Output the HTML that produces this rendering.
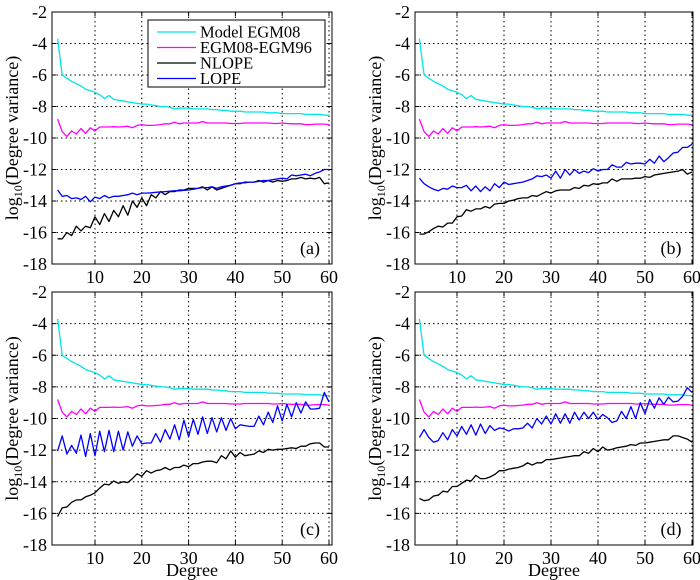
<!DOCTYPE html>
<html><head><meta charset="utf-8"><style>
html,body{margin:0;padding:0;background:#fff;}
svg{display:block;font-family:"Liberation Serif",serif;}
</style></head><body>
<svg id="fig" width="700" height="580" viewBox="0 0 700 580" xmlns="http://www.w3.org/2000/svg"></svg>
<script>
const degrees = [];
for (let d = 2; d <= 60; d++) degrees.push(d);
const yTicks = [-2,-4,-6,-8,-10,-12,-14,-16,-18];
const xTicks = [10,20,30,40,50,60];
const panelLabels = ['(a)','(b)','(c)','(d)'];
const seriesNames = ['Model EGM08','EGM08-EGM96','NLOPE','LOPE'];
const seriesColors = ['#00e5e5','#ff00ff','#000000','#0000ff'];

const egm08 = [-3.7,-6.0,-6.2,-6.4,-6.55,-6.7,-6.9,-7.0,-7.1,-7.25,-7.5,-7.3,-7.55,-7.6,-7.65,-7.7,-7.75,-7.8,-7.85,-7.85,-7.9,-7.95,-8.0,-8.0,-8.05,-8.15,-8.1,-8.1,-8.1,-8.15,-8.15,-8.15,-8.15,-8.2,-8.2,-8.25,-8.25,-8.3,-8.3,-8.3,-8.35,-8.35,-8.35,-8.35,-8.35,-8.4,-8.4,-8.4,-8.45,-8.45,-8.45,-8.45,-8.45,-8.5,-8.5,-8.5,-8.5,-8.55,-8.55];
const egmDiff = [-8.8,-9.6,-9.9,-9.55,-9.75,-9.4,-9.7,-9.35,-9.55,-9.3,-9.3,-9.3,-9.28,-9.3,-9.28,-9.25,-9.35,-9.2,-9.15,-9.2,-9.2,-9.18,-9.15,-9.1,-9.1,-9.0,-9.1,-9.05,-9.05,-9.05,-9.05,-8.95,-9.05,-9.05,-9.05,-9.05,-9.05,-9.08,-9.08,-9.08,-9.05,-9.05,-9.05,-9.05,-9.05,-9.05,-9.08,-9.08,-9.05,-9.08,-9.1,-9.1,-9.1,-9.15,-9.15,-9.12,-9.12,-9.12,-9.15];

const nlopeA = [-16.4,-16.4,-16.0,-16.2,-15.6,-15.9,-15.6,-15.7,-15.0,-15.5,-14.8,-15.3,-14.6,-15.0,-14.3,-14.9,-14.0,-14.4,-13.8,-14.3,-13.6,-13.8,-13.4,-13.6,-13.4,-13.4,-13.3,-13.3,-13.2,-13.2,-13.2,-13.1,-13.3,-13.1,-13.3,-13.2,-13.1,-13.0,-12.9,-12.9,-12.8,-12.8,-12.8,-12.7,-12.8,-12.7,-12.8,-12.7,-12.75,-12.7,-12.6,-12.6,-12.5,-12.6,-12.55,-12.6,-12.5,-12.9,-12.85];
const lopeA = [-13.3,-13.7,-13.65,-13.85,-13.8,-13.9,-13.7,-14.05,-13.75,-13.85,-13.65,-13.8,-13.7,-13.7,-13.65,-13.6,-13.5,-13.6,-13.5,-13.5,-13.48,-13.45,-13.42,-13.4,-13.38,-13.35,-13.35,-13.32,-13.3,-13.25,-13.2,-13.15,-13.15,-13.1,-13.2,-13.1,-13.05,-13.0,-12.9,-12.85,-12.85,-12.8,-12.8,-12.75,-12.7,-12.7,-12.65,-12.6,-12.55,-12.6,-12.35,-12.4,-12.35,-12.3,-12.4,-12.25,-12.15,-12.0,-12.0];
const nlopeB = [-16.1,-16.1,-15.95,-15.75,-15.6,-15.65,-15.4,-15.4,-15.0,-14.95,-14.55,-14.65,-14.5,-14.5,-14.35,-14.45,-14.2,-14.15,-14.15,-14.0,-13.95,-13.85,-13.8,-13.8,-13.65,-13.7,-13.55,-13.4,-13.5,-13.35,-13.3,-13.3,-13.3,-13.15,-13.2,-13.0,-13.05,-12.9,-12.95,-12.85,-12.85,-12.6,-12.75,-12.6,-12.6,-12.6,-12.55,-12.55,-12.45,-12.5,-12.35,-12.3,-12.25,-12.2,-12.15,-12.1,-12.0,-12.3,-12.15];
const lopeB = [-12.55,-12.9,-13.1,-13.25,-13.35,-13.2,-13.25,-13.05,-13.15,-13.15,-13.0,-13.35,-13.05,-13.4,-13.1,-13.35,-12.9,-13.15,-12.8,-12.95,-12.9,-12.85,-12.8,-12.7,-12.6,-12.4,-12.45,-12.35,-12.55,-12.1,-12.55,-12.0,-12.35,-12.0,-12.25,-12.1,-12.2,-11.95,-12.1,-12.0,-12.0,-11.7,-11.85,-11.85,-11.55,-11.65,-11.6,-11.6,-11.65,-11.35,-11.6,-11.15,-11.5,-11.25,-10.95,-10.9,-10.6,-10.6,-10.4];
const nlopeC = [-16.2,-15.65,-15.6,-15.3,-15.15,-15.15,-14.95,-14.85,-14.7,-14.4,-14.15,-14.2,-13.95,-14.1,-14.0,-14.05,-13.8,-13.5,-13.65,-13.3,-13.45,-13.3,-13.25,-13.1,-13.25,-13.1,-13.1,-12.95,-13.05,-12.85,-12.85,-12.75,-12.7,-12.7,-12.8,-12.35,-12.55,-12.05,-12.45,-12.15,-12.35,-12.3,-12.25,-12.05,-12.15,-11.95,-12.0,-11.95,-11.95,-11.9,-11.85,-11.9,-11.75,-11.75,-11.6,-11.55,-11.55,-11.8,-11.8];
const lopeC = [-12.05,-11.1,-12.25,-11.7,-12.2,-11.05,-12.4,-10.95,-12.35,-10.8,-12.1,-10.75,-12.1,-10.8,-12.0,-10.85,-11.75,-11.1,-11.6,-11.55,-11.55,-10.95,-11.5,-10.7,-11.3,-10.4,-11.35,-10.1,-11.15,-10.05,-11.0,-9.9,-10.95,-9.95,-10.85,-9.95,-10.75,-10.0,-10.65,-10.4,-10.45,-10.5,-10.5,-9.85,-10.4,-9.6,-10.25,-9.2,-10.15,-9.1,-9.9,-9.0,-9.65,-8.95,-9.4,-9.4,-9.35,-8.35,-8.95];
const nlopeD = [-15.05,-15.2,-15.15,-14.9,-14.85,-14.6,-14.65,-14.3,-14.3,-14.1,-13.9,-13.95,-13.6,-13.8,-13.8,-13.7,-13.55,-13.3,-13.3,-13.2,-13.15,-13.1,-13.0,-12.8,-12.95,-12.8,-12.8,-12.6,-12.6,-12.55,-12.5,-12.45,-12.4,-12.35,-12.35,-12.1,-12.2,-11.9,-12.1,-11.8,-12.0,-11.95,-11.85,-11.8,-11.75,-11.65,-11.7,-11.55,-11.55,-11.5,-11.45,-11.4,-11.35,-11.35,-11.1,-11.1,-11.2,-11.3,-11.5];
const lopeD = [-11.2,-10.7,-11.2,-11.5,-11.4,-10.9,-11.35,-10.7,-11.1,-10.5,-11.0,-10.4,-11.05,-10.35,-10.95,-10.45,-10.75,-10.6,-10.65,-10.8,-10.65,-10.65,-10.6,-10.3,-10.6,-10.0,-10.35,-9.85,-10.35,-9.7,-10.3,-9.7,-10.3,-9.6,-10.1,-9.6,-10.0,-9.6,-10.05,-9.75,-9.95,-10.25,-10.15,-9.55,-10.0,-9.25,-10.0,-9.0,-9.7,-8.8,-9.35,-8.7,-9.1,-8.65,-8.95,-8.9,-8.6,-8.05,-8.35];

const nlopeSets = [nlopeA, nlopeB, nlopeC, nlopeD];
const lopeSets = [lopeA, lopeB, lopeC, lopeD];

const NS = 'http://www.w3.org/2000/svg';
const svg = document.getElementById('fig');
function mk(tag, attrs, parent) {
  const e = document.createElementNS(NS, tag);
  for (const k in attrs) e.setAttribute(k, attrs[k]);
  (parent || svg).appendChild(e);
  return e;
}
const panels = [
  {l:52, r:332, t:12, b:264, x10:95, x60:329},
  {l:415, r:693, t:12, b:264, x10:457, x60:692},
  {l:52, r:332, t:292, b:545, x10:95, x60:329},
  {l:415, r:693, t:292, b:545, x10:457, x60:692}
];
panels.forEach((p, i) => {
  const g = mk('g', {});
  
  
  const sx = v => p.x10 + (v - 10) * (p.x60 - p.x10) / 50;
  const sy = v => p.t + (-2 - v) * (p.b - p.t) / 16;
  xTicks.forEach(v => {
    const ln = mk('line', {x1:sx(v), x2:sx(v), y1:p.t, y2:p.b, stroke:'#000', 'stroke-width':1, 'stroke-dasharray':'1.5,3'}, g);
    
    
    mk('line', {x1:sx(v), x2:sx(v), y1:p.b, y2:p.b-4, stroke:'#000', 'stroke-width':1}, g);
    mk('line', {x1:sx(v), x2:sx(v), y1:p.t, y2:p.t+4, stroke:'#000', 'stroke-width':1}, g);
    const t = mk('text', {x:sx(v), y:p.b+19, 'text-anchor':'middle', 'font-size':18}, g);
    t.textContent = v;
    
    
  });
  yTicks.forEach(v => {
    if (v !== -2 && v !== -18) {
      const ln = mk('line', {x1:p.l, x2:p.r, y1:sy(v), y2:sy(v), stroke:'#000', 'stroke-width':1, 'stroke-dasharray':'1.5,3'}, g);
      
      
    }
    mk('line', {x1:p.l, x2:p.l+4, y1:sy(v), y2:sy(v), stroke:'#000', 'stroke-width':1}, g);
    mk('line', {x1:p.r, x2:p.r-4, y1:sy(v), y2:sy(v), stroke:'#000', 'stroke-width':1}, g);
    const t = mk('text', {x:p.l-5, y:sy(v)+6, 'text-anchor':'end', 'font-size':18}, g);
    t.textContent = v;
    
    
  });
  const series = [egm08, egmDiff, nlopeSets[i], lopeSets[i]];
  [0,1,2,3].forEach(k => {
    const pts = series[k].map((v, j) => sx(degrees[j]).toFixed(1) + ',' + sy(v).toFixed(1)).join(' ');
    const pl = mk('polyline', {points:pts, fill:'none', stroke:seriesColors[k], 'stroke-width':1.3, 'stroke-linejoin':'round'}, g);
    
    
  });
  const box = mk('rect', {x:p.l, y:p.t, width:p.r-p.l, height:p.b-p.t, fill:'none', stroke:'#000', 'stroke-width':1}, g);
  
  
  const pl = mk('text', {x:p.r-22, y:p.b-10, 'text-anchor':'middle', 'font-size':18}, g);
  pl.textContent = panelLabels[i];
  
  
  const cy = (p.t + p.b) / 2;
  const cx = p.l - 38;
  const yl = mk('text', {x:cx, y:cy, transform:'rotate(-90 '+cx+' '+cy+')', 'text-anchor':'middle', 'font-size':18, 'dominant-baseline':'middle'}, g);
  
  
  yl.appendChild(document.createTextNode('log'));
  const sub = mk('tspan', {'font-size':12, dy:5}, yl); sub.textContent = '10';
  const rest = mk('tspan', {dy:-5}, yl); rest.textContent = '(Degree variance)';
  if (i >= 2) {
    const xl = mk('text', {x:(p.l+p.r)/2, y:p.b+31, 'text-anchor':'middle', 'font-size':18}, g);
    xl.textContent = 'Degree';
    
    
  }
  if (i === 0) {
    const lg = mk('g', {});
    
    
    mk('rect', {x:148, y:20, width:177, height:67, fill:'#fff', stroke:'#000', 'stroke-width':1}, lg);
    seriesNames.forEach((n, k) => {
      const y = 32 + k * 15.5;
      const e = mk('g', {}, lg);
      
      
      mk('line', {x1:157, x2:196, y1:y, y2:y, stroke:seriesColors[k], 'stroke-width':1.3}, e);
      const t = mk('text', {x:200, y:y+5.5, 'font-size':16.5}, e);
      t.textContent = n;
    });
  }
});
</script>
</body></html>
